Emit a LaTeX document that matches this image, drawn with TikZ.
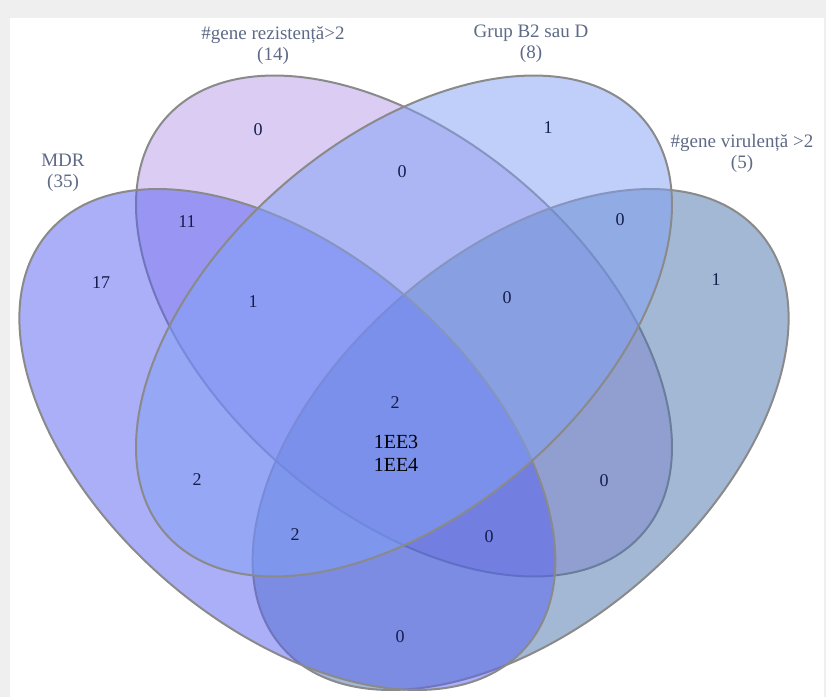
\documentclass[tikz,border=0pt]{standalone}
\usepackage{fontspec}
\setmainfont{Liberation Serif}
\definecolor{rezfill}{HTML}{B99BEB}
\definecolor{virfill}{HTML}{4973AD}
\definecolor{mdrfill}{HTML}{5761F1}
\definecolor{grupfill}{HTML}{81A1F5}
\definecolor{rim}{HTML}{8A8A8A}
\definecolor{namegray}{HTML}{5E6A86}
\definecolor{countblue}{HTML}{161D4C}
\definecolor{panel}{HTML}{EFEFEF}

\begin{document}
\begin{tikzpicture}[x=0.5pt,y=-0.5pt,
	venn/.style={draw=rim,line width=1pt,fill opacity=0.5},
	setname/.style={text=namegray,font=\fontsize{9.5}{10.5}\selectfont,align=center,inner sep=0pt},
	count/.style={text=countblue,font=\fontsize{9}{10}\selectfont,inner sep=0pt}]
	\useasboundingbox (0,0) rectangle (826,697);
	\fill[panel] (0,0) rectangle (826,697);
	\fill[white] (10,18) rectangle (824,697);

	\begin{scope}[shift={(404,0)},xscale=1.07]
		\draw[venn,fill=rezfill,rotate around={-45:(0,326)}] (0,326) ellipse (152.5pt and 90pt);
		\draw[venn,fill=virfill,rotate around={45:(109,439.5)}] (109,439.5) ellipse (152.5pt and 90pt);
		\draw[venn,fill=mdrfill,rotate around={-45:(-109,439.5)}] (-109,439.5) ellipse (152.5pt and 90pt);
		\draw[venn,fill=grupfill,rotate around={45:(0,326)}] (0,326) ellipse (152.5pt and 90pt);
	\end{scope}

	\node[setname] (mdrname) at (63,173) {MDR\\(35)};
	\node[setname] (rezname) at (273,46) {\#gene rezistență>2\\(14)};
	\node[setname] (grupname) at (531,43.5) {Grup B2 sau D\\(8)};
	\node[setname] (virname) at (742,153.5) {\#gene virulență >2\\(5)};

	\node[count] (rezonly) at (258,130) {0};
	\node[count] (gruponly) at (548,128) {1};
	\node[count] (rezgrup) at (402,172) {0};
	\node[count] (mdrrez) at (187,222) {11};
	\node[count] (mdronly) at (101,283) {17};
	\node[count] (grupvir) at (620,220) {0};
	\node[count] (vironly) at (716,280) {1};
	\node[count] (mdrrezgrup) at (253,302) {1};
	\node[count] (rezgrupvir) at (507,298) {0};
	\node[count] (allfour) at (395,403) {2};
	\node[align=center,font=\fontsize{10}{11.5}\selectfont,inner sep=0pt] (eecodes) at (396,453.5) {1EE3\\1EE4};
	\node[count] (mdrgrup) at (197,480) {2};
	\node[count] (rezvir) at (604,481) {0};
	\node[count] (mdrgrupvir) at (295,535) {2};
	\node[count] (mdrrezvir) at (489,537) {0};
	\node[count] (mdrvir) at (400,637) {0};
\end{tikzpicture}
\end{document}
